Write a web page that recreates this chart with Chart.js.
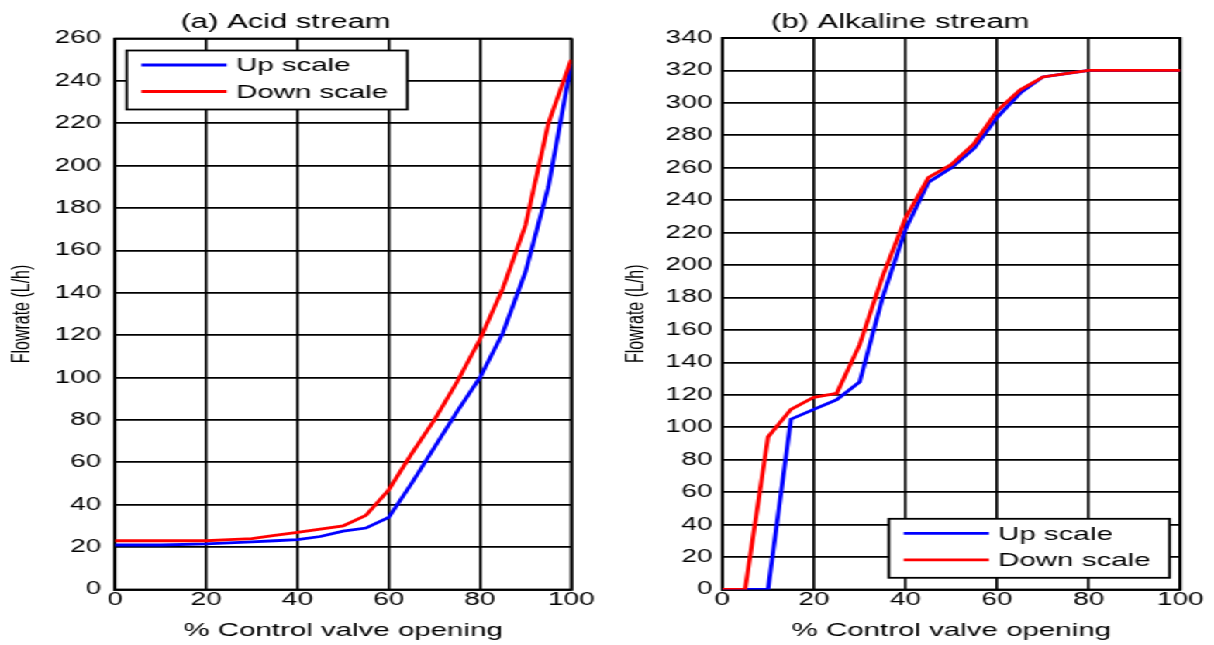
<!DOCTYPE html>
<html>
<head>
<meta charset="utf-8">
<title>Flowrate vs control valve opening</title>
<script src="https://cdn.jsdelivr.net/npm/chart.js@4.4.1/dist/chart.umd.min.js"></script>
<style>
    html, body { margin: 0; padding: 0; background: #fff; overflow: hidden; }
    /* the original figure is stretched sideways, so the whole stage is too */
    #stage { position: relative; width: 783px; height: 645px; transform: scaleX(1.5505); transform-origin: 0 0; }
    #stage canvas { position: absolute; top: 0; }
    #acidChart { left: 0; }
    #alkChart { left: 400px; }
</style>
</head>
<body>
<div id="stage">
    <canvas id="acidChart" width="400" height="645"></canvas>
    <canvas id="alkChart" width="383" height="645"></canvas>
</div>
<script>
// (a) Acid stream
const acidOpening = [0, 10, 20, 25, 30, 35, 40, 45, 50, 55, 60, 65, 70, 75, 80, 85, 90, 95, 100];
const acidUp      = [21, 21, 21.5, 22, 22.5, 23, 23.5, 25, 27.5, 29, 34, 50, 67, 84, 100, 121, 150, 190, 248];
const acidDown    = [23, 23, 23, 23.5, 24, 25.5, 27, 28.5, 30, 35, 47, 64, 80, 98, 118, 142, 172, 220, 250];

// (b) Alkaline stream
const alkOpening = [0, 5, 10, 15, 20, 25, 30, 35, 40, 45, 50, 55, 60, 65, 70, 75, 80, 85, 90, 95, 100];
const alkUp      = [0, 0, 0, 105, 111, 117, 128, 180, 222, 251, 260, 272, 291, 306, 316, 318, 320, 320, 320, 320, 320];
const alkDown    = [0, 0, 94, 111, 118.5, 121, 151, 193, 229, 254, 262, 275, 295, 308, 316, 318, 320, 320, 320, 320, 320];

const seriesLabels = ['Up scale', 'Down scale'];
const seriesColors = ['#0000ff', '#ff0000'];
const xTickStep = 20;
const yTickStep = 20;

Chart.defaults.font.family = "'Liberation Sans', Arial, sans-serif";
Chart.defaults.color = '#000';

function toPoints(xs, ys) {
    return xs.map((x, i) => ({ x: x, y: ys[i] }));
}

// black box round the plot area
const framePlugin = {
    id: 'frame',
    beforeDatasetsDraw(chart) {
        const a = chart.chartArea;
        const ctx = chart.ctx;
        ctx.save();
        ctx.strokeStyle = '#000';
        ctx.lineWidth = 1.8;
        ctx.strokeRect(a.left, a.top, a.right - a.left, a.bottom - a.top);
        ctx.restore();
    }
};

// legend box drawn inside the plot, like the original figure
const boxLegendPlugin = {
    id: 'boxLegend',
    afterDraw(chart, args, opts) {
        const a = chart.chartArea;
        const ctx = chart.ctx;
        const w = 181, h = 59;
        const x = opts.corner === 'se' ? a.right - opts.dx - w : a.left + opts.dx;
        const y = opts.corner === 'se' ? a.bottom - opts.dy - h : a.top + opts.dy;
        ctx.save();
        ctx.fillStyle = '#fff';
        ctx.fillRect(x, y, w, h);
        ctx.strokeStyle = '#000';
        ctx.lineWidth = 1.8;
        ctx.strokeRect(x, y, w, h);
        ctx.font = "19px 'Liberation Sans', Arial, sans-serif";
        ctx.textBaseline = 'middle';
        chart.data.datasets.forEach((ds, i) => {
            const rowY = y + 14.5 + i * 26.5;
            ctx.strokeStyle = ds.borderColor;
            ctx.lineWidth = 2.8;
            ctx.beginPath();
            ctx.moveTo(x + 9.5, rowY);
            ctx.lineTo(x + 64.5, rowY);
            ctx.stroke();
            ctx.fillStyle = '#000';
            ctx.fillText(ds.label, x + 70.5, rowY + 1);
        });
        ctx.restore();
    }
};

function makeFlowChart(canvasId, opts) {
    const ctx = document.getElementById(canvasId);
    if (!ctx) return;

    new Chart(ctx, {
        type: 'line',
        data: {
            datasets: [
                {
                    label: seriesLabels[0],
                    data: toPoints(opts.opening, opts.up),
                    borderColor: seriesColors[0],
                    borderWidth: 2.8,
                    pointRadius: 0,
                    tension: 0,
                    order: 1
                },
                {
                    label: seriesLabels[1],
                    data: toPoints(opts.opening, opts.down),
                    borderColor: seriesColors[1],
                    borderWidth: 2.8,
                    pointRadius: 0,
                    tension: 0,
                    order: 0
                }
            ]
        },
        options: {
            responsive: false,
            animation: false,
            devicePixelRatio: 1,
            layout: {
                padding: { left: 0, right: opts.padRight, top: 0, bottom: 0 }
            },
            plugins: {
                legend: { display: false },
                tooltip: { enabled: false },
                title: {
                    display: true,
                    text: opts.title,
                    font: { size: 20, weight: 'normal' },
                    color: '#000',
                    padding: { top: 10, bottom: opts.titleGap }
                },
                boxLegend: opts.legend
            },
            scales: {
                x: {
                    type: 'linear',
                    min: 0,
                    max: 100,
                    afterFit: scale => { scale.height = 55.5; },
                    ticks: { stepSize: xTickStep, padding: 0, font: { size: 18 }, maxRotation: 0 },
                    grid: { color: '#000', lineWidth: 1.7, drawTicks: false },
                    border: { color: '#000', width: 1.8 },
                    title: {
                        display: true,
                        text: '% Control valve opening',
                        font: { size: 19 },
                        padding: { top: 0, bottom: 3 }
                    }
                },
                y: {
                    min: 0,
                    max: opts.yMax,
                    afterFit: scale => { scale.width = opts.axisWidth; },
                    ticks: { stepSize: yTickStep, padding: opts.tickPad, font: { size: 18 } },
                    grid: { color: '#000', lineWidth: 1.7, drawTicks: false },
                    border: { color: '#000', width: 1.8 },
                    title: {
                        display: true,
                        text: 'Flowrate (L/h)',
                        font: { size: 16 },
                        padding: { top: opts.yTitlePad, bottom: 0 }
                    }
                }
            }
        },
        plugins: [framePlugin, boxLegendPlugin]
    });
}

makeFlowChart('acidChart', {
    title: '(a) Acid stream',
    opening: acidOpening,
    up: acidUp,
    down: acidDown,
    yMax: 260,
    axisWidth: 74.2,
    padRight: 31.6,
    tickPad: 9,
    yTitlePad: 5.4,
    titleGap: 4.5,
    legend: { corner: 'nw', dx: 7.5, dy: 12 }
});

makeFlowChart('alkChart', {
    title: '(b) Alkaline stream',
    opening: alkOpening,
    up: alkUp,
    down: alkDown,
    yMax: 340,
    axisWidth: 65.8,
    padRight: 21.7,
    tickPad: 6.4,
    yTitlePad: 0.7,
    titleGap: 4,
    legend: { corner: 'se', dx: 7, dy: 11.7 }
});
</script>
</body>
</html>
